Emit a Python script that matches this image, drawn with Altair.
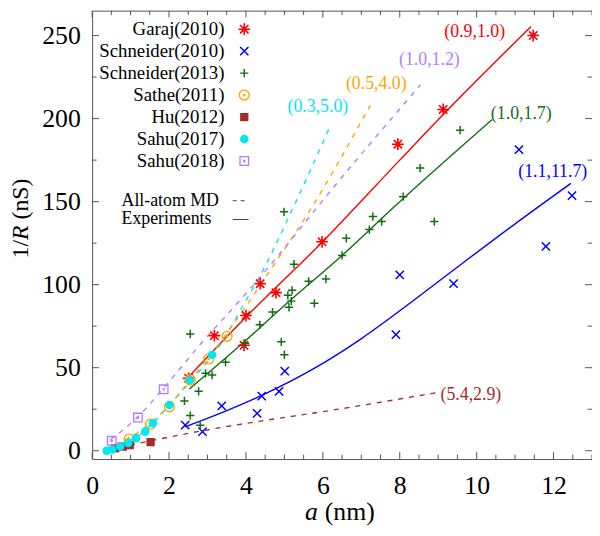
import altair as alt
import pandas as pd

# ---------------- data ----------------
garaj_a = [2.51, 3.18, 3.95, 4.00, 4.37, 4.78, 5.98, 7.95, 9.13, 11.47]
garaj_g = [43.6, 69.3, 63.5, 81.4, 100.6, 95.2, 125.8, 184.6, 205.5, 250.0]

schn10_a = [2.42, 2.87, 3.37, 4.29, 4.41, 4.86, 5.01, 7.90, 8.00, 9.40, 11.10, 11.80, 12.48]
schn10_g = [15.4, 11.5, 27.0, 22.5, 32.9, 35.8, 47.9, 69.9, 105.9, 100.6, 181.3, 123.1, 153.6]

schn13_a = [2.40, 2.55, 2.55, 2.77, 2.81, 2.95, 3.12, 3.47, 3.98, 4.36, 4.69, 4.92, 5.00,
            4.99, 5.09, 5.12, 5.18, 5.20, 5.25, 5.63, 5.78, 6.08, 6.50, 6.61, 7.21, 7.30,
            7.53, 8.09, 8.53, 8.90, 9.57]
schn13_g = [30.0, 21.2, 70.3, 35.8, 15.4, 46.6, 45.6, 53.3, 64.7, 75.8, 83.5, 65.6, 57.8,
            143.9, 93.6, 86.4, 90.1, 96.6, 112.3, 102.0, 88.8, 103.4, 117.6, 127.9, 133.2, 141.0,
            138.0, 153.0, 170.2, 138.0, 193.0]

sathe_a = [0.96, 1.52, 2.01, 2.55, 3.03, 3.51]
sathe_g = [7.0, 16.0, 26.5, 42.6, 55.3, 68.9]

hu_a = [0.60, 0.80, 0.98, 1.52]
hu_g = [1.5, 2.5, 3.4, 5.2]

sahu17_a = [0.38, 0.52, 0.73, 0.94, 1.14, 1.38, 1.58, 2.01, 2.54, 3.12]
sahu17_g = [0.0, 0.8, 2.6, 4.7, 7.6, 11.5, 16.6, 27.5, 42.6, 57.8]

sahu18_a = [0.51, 1.19, 1.86]
sahu18_g = [6.0, 20.0, 37.0]

# fitted curves (experiments: solid, all-atom MD: dashed)
red_a = [2.51, 4.00, 6.00, 8.00, 9.13, 11.41]
red_g = [44.5, 80.5, 126.0, 175.0, 202.5, 255.4]
green_a = [2.53, 4.00, 5.00, 6.50, 7.87, 10.40]
green_g = [37.2, 66.5, 87.5, 117.6, 147.2, 199.4]
blue_a = [2.42, 3.50, 4.41, 5.74, 7.00, 8.17, 10.61, 12.45]
blue_g = [14.4, 24.0, 33.0, 48.5, 67.0, 87.0, 130.3, 161.0]
brown_a = [0.43, 2.74, 6.85, 8.94]
brown_g = [0.8, 11.5, 26.7, 34.9]
cyan_a = [0.43, 1.58, 1.97, 2.74, 3.25, 3.94, 4.36, 5.22, 6.18]
cyan_g = [0.2, 16.4, 26.5, 46.6, 61.0, 88.0, 105.0, 146.0, 194.9]
orange_a = [0.60, 0.94, 2.01, 2.55, 3.51, 4.58, 5.69, 7.23]
orange_g = [4.0, 7.6, 27.5, 42.5, 70.9, 106.9, 145.8, 207.8]
purple_a = [0.47, 1.16, 1.84, 2.74, 4.02, 4.88, 5.86, 8.54]
purple_g = [6.6, 19.7, 37.2, 62.1, 95.2, 118.6, 146.8, 220.4]

curve_labels = ["(0.9,1.0)", "(1.0,1.2)", "(0.5,4.0)", "(0.3,5.0)", "(1.0,1.7)", "(1.1,11.7)", "(5.4,2.9)"]
curve_label_a = [9.95, 8.77, 7.39, 5.87, 11.16, 11.98, 9.85]
curve_label_g = [252.0, 235.0, 221.0, 207.0, 203.0, 168.0, 33.3]

legend_names = ["Garaj(2010)", "Schneider(2010)", "Schneider(2013)", "Sathe(2011)",
                "Hu(2012)", "Sahu(2017)", "Sahu(2018)"]

x_major = [0, 2, 4, 6, 8, 10, 12]
x_minor = [v / 2 for v in range(0, 27) if v % 4 != 0]
y_major = [0, 50, 100, 150, 200, 250]
y_minor = [25, 75, 125, 175, 225]

# ---------------- styling ----------------
RED, BLUE, GREEN = "#ff0000", "#0000ff", "#107010"
ORANGE, BROWN, CYAN, PURPLE = "#ffa500", "#a52a2a", "#00e8f0", "#b47cff"
FONT = "Liberation Serif"
FRAME = "#555555"

W, H = 505, 453
xscale = alt.Scale(domain=[0, 13], nice=False, zero=False)
yscale = alt.Scale(domain=[-5, 265], nice=False, zero=False)
xaxis = alt.Axis(values=x_major, ticks=False, domain=False, grid=False, labelFont=FONT,
                 labelFontSize=26, labelPadding=14, labelColor="black", labelFlush=False,
                 labelOverlap=False, title=None)
yaxis = alt.Axis(values=y_major, ticks=False, domain=False, grid=False, labelFont=FONT,
                 labelFontSize=26, labelPadding=12, labelColor="black", labelOverlap=False,
                 title=None)


def X(f):
    return alt.X(f"{f}:Q", scale=xscale, axis=xaxis, title=None)


def Y(f):
    return alt.Y(f"{f}:Q", scale=yscale, axis=yaxis, title=None)


ASTER = "M-1,0L1,0M0,-1L0,1M-0.71,-0.71L0.71,0.71M-0.71,0.71L0.71,-0.71"
XMARK = "M-1,-1L1,1M-1,1L1,-1"
PLUS = "M-1,0L1,0M0,-1L0,1"
CIRC_DOT = "M-1,0A1,1,0,1,1,1,0A1,1,0,1,1,-1,0ZM-0.12,0A0.12,0.12,0,1,1,0.12,0A0.12,0.12,0,1,1,-0.12,0Z"
SQ_DOT = "M-1,-1H1V1H-1ZM-0.12,-0.12H0.12V0.12H-0.12Z"

series = [
    (garaj_a, garaj_g, RED, ASTER, False, 140, 1.6),
    (schn10_a, schn10_g, BLUE, XMARK, False, 70, 1.5),
    (schn13_a, schn13_g, GREEN, PLUS, False, 70, 1.5),
    (sathe_a, sathe_g, ORANGE, CIRC_DOT, False, 100, 1.4),
    (hu_a, hu_g, BROWN, "square", True, 70, 1),
    (sahu17_a, sahu17_g, CYAN, "circle", True, 75, 1),
    (sahu18_a, sahu18_g, PURPLE, SQ_DOT, False, 75, 1.3),
]

lines = [
    (red_a, red_g, RED, None, "monotone"),
    (green_a, green_g, GREEN, None, "monotone"),
    (blue_a, blue_g, BLUE, None, "basis"),
    (brown_a, brown_g, BROWN, [5, 6], "monotone"),
    (cyan_a, cyan_g, CYAN, [5, 6], "monotone"),
    (orange_a, orange_g, ORANGE, [5, 6], "monotone"),
    (purple_a, purple_g, PURPLE, [5, 6], "monotone"),
]
label_colors = [RED, PURPLE, ORANGE, CYAN, GREEN, BLUE, BROWN]

layers = []

# tick marks (inward, on all four sides)
for vals, ln in ((x_major, 7), (x_minor, 4.5)):
    d = pd.DataFrame({"v": vals})
    layers.append(alt.Chart(d).mark_rule(color=FRAME, strokeWidth=1).encode(
        x=X("v"), y=alt.value(H), y2=alt.value(H - ln)))
    layers.append(alt.Chart(d).mark_rule(color=FRAME, strokeWidth=1).encode(
        x=X("v"), y=alt.value(0), y2=alt.value(ln)))
for vals, ln in ((y_major, 7), (y_minor, 4.5)):
    d = pd.DataFrame({"v": vals})
    layers.append(alt.Chart(d).mark_rule(color=FRAME, strokeWidth=1).encode(
        y=Y("v"), x=alt.value(0), x2=alt.value(ln)))
    layers.append(alt.Chart(d).mark_rule(color=FRAME, strokeWidth=1).encode(
        y=Y("v"), x=alt.value(W), x2=alt.value(W - ln)))

# curves
for a, g, c, dash, interp in lines:
    d = pd.DataFrame({"a": a, "g": g})
    kw = dict(color=c, strokeWidth=1.4, interpolate=interp)
    if dash:
        kw["strokeDash"] = dash
    layers.append(alt.Chart(d).mark_line(**kw).encode(x=X("a"), y=Y("g")))

# data points
for a, g, c, shp, filled, size, sw in series:
    d = pd.DataFrame({"a": a, "g": g})
    layers.append(alt.Chart(d).mark_point(shape=shp, filled=filled, color=c, size=size,
                                          strokeWidth=sw, opacity=1).encode(x=X("a"), y=Y("g")))

# curve labels
for t, a, g, c in zip(curve_labels, curve_label_a, curve_label_g, label_colors):
    d = pd.DataFrame({"a": [a], "g": [g], "t": [t]})
    layers.append(alt.Chart(d).mark_text(font=FONT, fontSize=18, color=c, align="center",
                                         baseline="middle").encode(x=X("a"), y=Y("g"), text="t:N"))

# legend
for i, (name, s) in enumerate(zip(legend_names, series)):
    ly = 18.7 + 22.2 * i
    d = pd.DataFrame({"t": [name]})
    layers.append(alt.Chart(d).mark_text(font=FONT, fontSize=19, color="black", align="right",
                                         baseline="middle").encode(
        x=alt.value(133.7), y=alt.value(ly), text="t:N"))
    _, _, c, shp, filled, size, sw = s
    layers.append(alt.Chart(d).mark_point(shape=shp, filled=filled, color=c, size=size,
                                          strokeWidth=sw, opacity=1).encode(
        x=alt.value(153.7), y=alt.value(ly)))

for t, ly, dash in (("All-atom MD", 192.0, [4, 4]), ("Experiments", 211.0, None)):
    d = pd.DataFrame({"t": [t]})
    layers.append(alt.Chart(d).mark_text(font=FONT, fontSize=18, color="black", align="left",
                                         baseline="middle").encode(
        x=alt.value(29.7), y=alt.value(ly), text="t:N"))
    kw = dict(color="#444444", strokeWidth=1)
    if dash:
        kw["strokeDash"] = dash
    layers.append(alt.Chart(d).mark_rule(**kw).encode(
        x=alt.value(142), x2=alt.value(158), y=alt.value(ly)))

# axis titles (italic variables)
TF = 26
d1 = pd.DataFrame({"t": ["a"]})
layers.append(alt.Chart(d1).mark_text(font=FONT, fontSize=TF, fontStyle="italic", color="black",
                                      align="left", baseline="middle").encode(
    x=alt.value(215), y=alt.value(507), text="t:N"))
d2 = pd.DataFrame({"t": ["(nm)"]})
layers.append(alt.Chart(d2).mark_text(font=FONT, fontSize=TF, color="black",
                                      align="left", baseline="middle").encode(
    x=alt.value(235), y=alt.value(507), text="t:N"))

TFY = 24
yc = 210
yb = yc + 3.36 * TFY / 2
for t, off, style in (("1/", 0, "normal"), ("R", 0.778, "italic"), ("(nS)", 0.778 + 0.611 + 0.25, "normal")):
    d = pd.DataFrame({"t": [t]})
    layers.append(alt.Chart(d).mark_text(font=FONT, fontSize=TFY, fontStyle=style, color="black",
                                         align="left", baseline="middle", angle=270).encode(
        x=alt.value(-72), y=alt.value(yb - off * TFY), text="t:N"))

chart = alt.layer(*layers).properties(
    width=W, height=H,
    padding={"left": 85, "top": 0, "right": 0, "bottom": 70},
    autosize=alt.AutoSizeParams(type="none"),
    background="white",
).configure_view(stroke=FRAME, strokeWidth=1)

chart.save("out.html", embed_options={"renderer": "svg", "actions": False})
